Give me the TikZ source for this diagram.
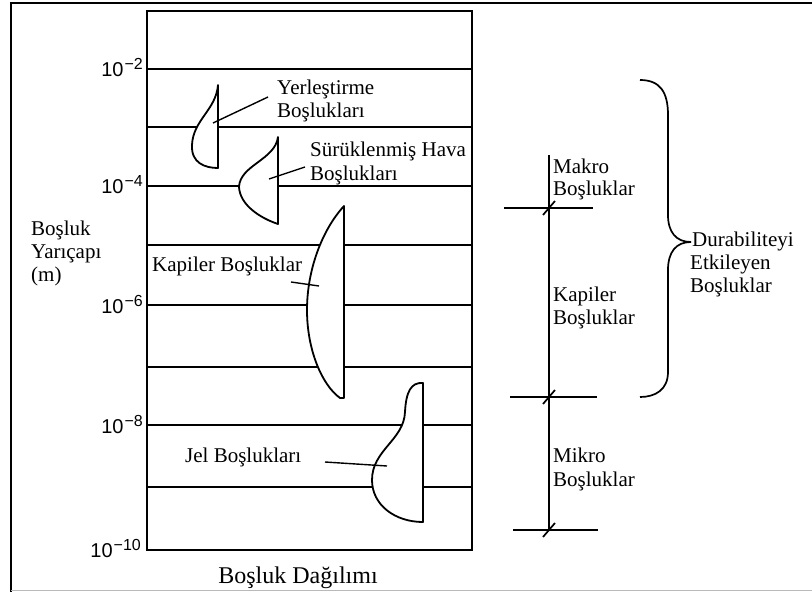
\documentclass[tikz,border=0pt]{standalone}
\usepackage{fontspec}
\setmainfont{Liberation Serif}
\newfontfamily\axisfont{Liberation Sans}
\newcommand{\tenpow}[1]{10\kern1pt\raisebox{7pt}{\fontsize{16}{16}\selectfont #1}}
\begin{document}
\begin{tikzpicture}[x=1pt,y=-1pt,
  grid/.style={line width=2pt},
  pore/.style={draw,fill=white,line width=1.8pt,line join=round},
  leader/.style={line width=1.4pt},
  scaleline/.style={line width=1.7pt},
  lbl/.style={font=\fontsize{21}{23}\selectfont,inner sep=0pt,anchor=base west},
  tk/.style={font=\axisfont\fontsize{20}{20}\selectfont,inner sep=0pt,anchor=base east}]
\useasboundingbox (0,0) rectangle (812,592);

% outer frame
\draw[line width=2.4pt] (11,592) -- (11,3) -- (812,3);
\draw[gray!55,line width=1pt] (11,590.5) -- (812,590.5);

% chart box and decade lines
\foreach \y in {69,127,186,245,305,367,425,487}
  \draw[grid] (147,\y) -- (472,\y);
\draw[grid] (147,11) rectangle (472,550);

% radius axis labels
\node[tk] (t2)  at (143,76)  {\tenpow{−2}};
\node[tk] (t4)  at (143,193) {\tenpow{−4}};
\node[tk] (t6)  at (143,313) {\tenpow{−6}};
\node[tk] (t8)  at (143,433) {\tenpow{−8}};
\node[tk] (t10) at (141,557) {\tenpow{−10}};

\node[lbl] (ax1) at (31,235) {Boşluk};
\node[lbl] (ax2) at (31,258) {Yarıçapı};
\node[lbl] (ax3) at (31,281) {(m)};

% pore size distributions
\path[pore] (218,85) .. controls (216,110) and (193,120) .. (192,145)
  .. controls (191,163) and (205,168) .. (218,168) -- cycle;
\path[pore] (278,137) .. controls (275,160) and (240,165) .. (239,187)
  .. controls (240,205) and (260,218) .. (278,224) -- cycle;
\path[pore] (344,206) .. controls (322,230) and (307,270) .. (307,310)
  .. controls (307,350) and (322,385) .. (340,398) -- (344,398) -- cycle;
\path[pore] (423,383) .. controls (411,382) and (406,392) .. (405,412)
  .. controls (404,440) and (372,450) .. (372,480)
  .. controls (372,505) and (395,522) .. (423,522) -- cycle;

% pore labels
\node[lbl] (yer1) at (277,94)  {Yerleştirme};
\node[lbl] (yer2) at (277,117) {Boşlukları};
\node[lbl] (hav1) at (310,156) {Sürüklenmiş Hava};
\node[lbl] (hav2) at (310,180) {Boşlukları};
\node[lbl] (kap)  at (152,271) {Kapiler Boşluklar};
\node[lbl] (jel)  at (185,462) {Jel Boşlukları};

% leaders
\coordinate (yerIn) at (213,123);
\coordinate (yerOut) at (268,97);
\coordinate (havIn) at (269,179);
\coordinate (havOut) at (305,167);
\coordinate (kapOut) at (291,282);
\coordinate (kapIn) at (319,286);
\coordinate (jelOut) at (325,462);
\coordinate (jelIn) at (387,466);
\draw[leader] (yerIn) -- (yerOut);
\draw[leader] (havIn) -- (havOut);
\draw[leader] (kapOut) -- (kapIn);
\draw[leader] (jelOut) -- (jelIn);

\node[font=\fontsize{24}{24}\selectfont,inner sep=0pt,anchor=base] (dist) at (298,583) {Boşluk Dağılımı};

% pore classes scale
\coordinate (sTop) at (549,155);
\coordinate (sMa) at (549,208);
\coordinate (sMi) at (549,397);
\coordinate (sBot) at (549,530);
\draw[scaleline] (sTop) -- (sBot);
\draw[scaleline] (504,208) -- (593,208);
\draw[scaleline] (510,397) -- (597,397);
\draw[scaleline] (513,530) -- (598,530);
\foreach \p in {sMa,sMi,sBot}
  \draw[scaleline] ([shift={(-6,7)}]\p) -- ([shift={(6,-7)}]\p);

\node[lbl] (ma1) at (553,173) {Makro};
\node[lbl] (ma2) at (553,195) {Boşluklar};
\node[lbl] (ka1) at (553,301) {Kapiler};
\node[lbl] (ka2) at (553,324) {Boşluklar};
\node[lbl] (mi1) at (553,462) {Mikro};
\node[lbl] (mi2) at (553,486) {Boşluklar};

% brace over macro and capillary pores
\coordinate (brTip) at (691,242);
\draw[scaleline] (640,80) .. controls (660,80) and (668,92) .. (668,115)
  -- (668,215) .. controls (668,232) and (676,242) .. (brTip);
\draw[scaleline] (brTip) .. controls (676,242) and (668,252) .. (668,270)
  -- (668,372) .. controls (668,390) and (655,397) .. (640,397);

\node[lbl] (du1) at (692,246) {Durabiliteyi};
\node[lbl] (du2) at (690,269) {Etkileyen};
\node[lbl] (du3) at (690,292) {Boşluklar};
\end{tikzpicture}
\end{document}
